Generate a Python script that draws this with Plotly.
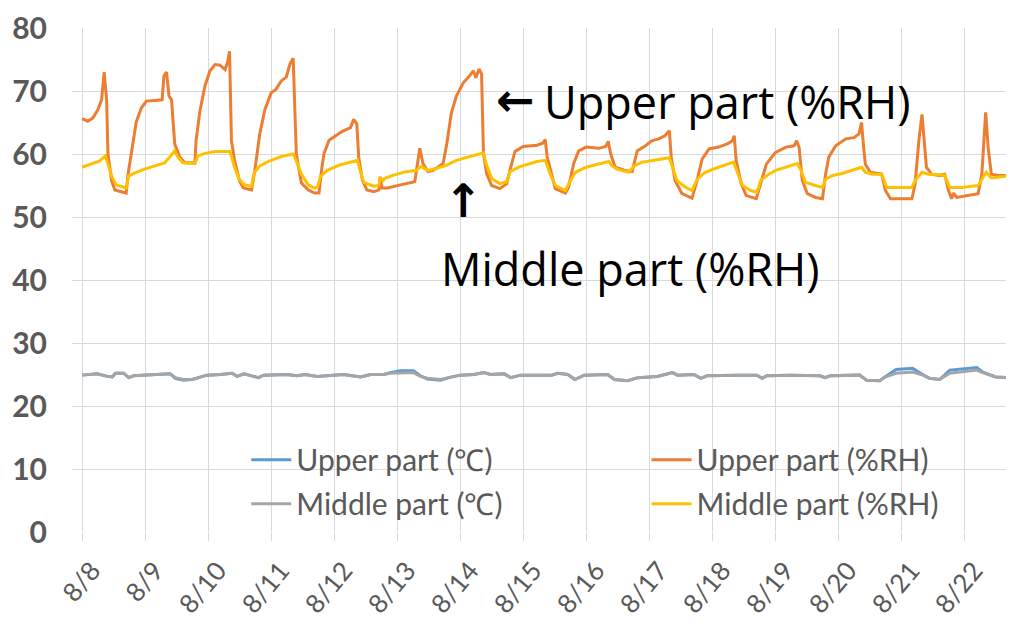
import plotly.graph_objects as go

# ---------------- data (t = days since 8/8 00:00) ----------------
day_labels = ["8/8", "8/9", "8/10", "8/11", "8/12", "8/13", "8/14", "8/15",
              "8/16", "8/17", "8/18", "8/19", "8/20", "8/21", "8/22"]

t_upper_rh = [0.00, 0.09, 0.17, 0.25, 0.31, 0.35, 0.39, 0.41, 0.47, 0.52, 0.62, 0.70, 0.73, 0.81, 0.86, 0.94,
              1.02, 1.15, 1.27, 1.30, 1.34, 1.38, 1.42, 1.47, 1.55, 1.63, 1.79, 1.81, 1.87, 1.95,
              2.03, 2.11, 2.19, 2.27, 2.31, 2.34, 2.37, 2.42, 2.50, 2.56, 2.69, 2.74, 2.82, 2.90,
              3.00, 3.08, 3.16, 3.24, 3.30, 3.35, 3.38, 3.40, 3.48, 3.59, 3.69, 3.76, 3.80, 3.84, 3.92,
              4.03, 4.13, 4.26, 4.31, 4.36, 4.39, 4.45, 4.52, 4.63, 4.71, 4.73, 4.76, 4.85,
              5.00, 5.14, 5.28, 5.33, 5.36, 5.41, 5.49, 5.57, 5.65, 5.73, 5.79, 5.86, 5.94,
              6.05, 6.15, 6.21, 6.25, 6.30, 6.34, 6.37, 6.42, 6.50, 6.63, 6.74, 6.79, 6.87,
              7.00, 7.22, 7.31, 7.35, 7.38, 7.43, 7.51, 7.67, 7.72, 7.80, 7.88,
              8.00, 8.20, 8.31, 8.35, 8.39, 8.46, 8.62, 8.73, 8.81, 8.94,
              9.04, 9.15, 9.25, 9.32, 9.35, 9.41, 9.52, 9.68, 9.76, 9.84, 9.95,
              10.10, 10.24, 10.32, 10.35, 10.38, 10.46, 10.54, 10.70, 10.78, 10.86,
              11.00, 11.17, 11.30, 11.34, 11.38, 11.43, 11.51, 11.64, 11.75, 11.80, 11.85, 11.96,
              12.12, 12.25, 12.33, 12.37, 12.40, 12.43, 12.51, 12.69, 12.75, 12.83,
              13.01, 13.17, 13.22, 13.28, 13.33, 13.37, 13.40, 13.48, 13.59, 13.69, 13.75, 13.80, 13.83, 13.88,
              14.06, 14.22, 14.28, 14.34, 14.38, 14.43, 14.54, 14.69, 14.78]
upper_rh = [65.6, 65.2, 65.7, 67.0, 68.6, 73.0, 68.6, 60.0, 55.7, 54.3, 54.0, 53.8, 56.8, 62.2, 65.1, 67.3,
            68.4, 68.5, 68.6, 72.4, 73.0, 69.2, 68.6, 61.6, 59.5, 58.6, 58.6, 62.2, 66.8, 70.8,
            73.2, 74.2, 74.1, 73.4, 74.6, 76.3, 62.2, 58.9, 55.7, 54.6, 54.3, 57.3, 63.2, 67.0,
            69.7, 70.3, 71.6, 72.2, 74.3, 75.2, 67.6, 60.0, 55.4, 54.3, 53.8, 53.8, 57.4, 60.1, 62.2,
            63.0, 63.6, 64.2, 65.5, 64.8, 59.5, 55.8, 54.3, 54.0, 54.3, 56.4, 54.6, 54.6,
            55.0, 55.3, 55.6, 59.0, 60.9, 58.5, 57.2, 57.4, 58.0, 58.5, 61.7, 66.5, 69.2,
            71.3, 72.4, 73.2, 72.1, 73.5, 72.7, 60.1, 56.9, 55.0, 54.5, 55.3, 57.4, 60.4,
            61.2, 61.4, 61.7, 62.3, 59.6, 57.5, 54.5, 53.8, 54.7, 58.4, 60.5,
            61.1, 60.9, 61.2, 62.0, 60.0, 57.9, 57.4, 57.2, 60.5, 61.3,
            62.1, 62.4, 62.9, 63.7, 59.5, 55.8, 53.7, 53.0, 55.8, 59.2, 60.8,
            61.1, 61.6, 62.1, 62.9, 59.0, 55.3, 53.4, 52.9, 55.8, 58.4,
            60.2, 61.1, 61.3, 62.1, 61.0, 55.8, 53.7, 53.1, 52.9, 56.8, 59.5, 61.3,
            62.4, 62.6, 63.2, 65.0, 61.5, 58.4, 57.1, 56.8, 54.2, 52.9,
            52.9, 52.9, 55.2, 62.1, 66.3, 62.0, 57.9, 56.8, 56.6, 56.8, 54.2, 52.9, 53.8, 53.1,
            53.4, 53.7, 56.8, 66.6, 61.0, 56.8, 56.6, 56.6, 56.8]

t_middle_rh = [0.00, 0.15, 0.28, 0.37, 0.41, 0.47, 0.54, 0.62, 0.70, 0.74, 0.84, 0.99,
               1.15, 1.31, 1.39, 1.47, 1.52, 1.60, 1.79, 1.84, 1.95,
               2.11, 2.34, 2.37, 2.42, 2.50, 2.58, 2.69, 2.73, 2.82, 2.95,
               3.16, 3.35, 3.40, 3.48, 3.59, 3.69, 3.74, 3.78, 3.89,
               4.10, 4.37, 4.41, 4.47, 4.63, 4.71, 4.73, 4.78, 4.80, 4.93,
               5.14, 5.30, 5.38, 5.49, 5.62, 5.78, 5.94,
               6.15, 6.37, 6.42, 6.50, 6.63, 6.74, 6.79, 6.95,
               7.22, 7.35, 7.43, 7.51, 7.67, 7.75, 7.83,
               8.00, 8.20, 8.36, 8.41, 8.49, 8.68, 8.76, 8.89,
               9.10, 9.32, 9.37, 9.44, 9.58, 9.68, 9.76, 9.89,
               10.10, 10.34, 10.40, 10.48, 10.61, 10.71, 10.77, 10.90,
               11.01, 11.17, 11.35, 11.41, 11.48, 11.64, 11.75, 11.80, 11.91,
               12.06, 12.27, 12.37, 12.43, 12.54, 12.69, 12.77,
               13.17, 13.22, 13.33, 13.43, 13.59, 13.69, 13.77, 13.96,
               14.22, 14.30, 14.35, 14.43, 14.59, 14.78]
middle_rh = [57.9, 58.4, 58.9, 59.7, 58.4, 56.5, 55.1, 54.8, 54.6, 56.5, 57.0, 57.6,
             58.1, 58.6, 59.5, 60.5, 59.5, 58.6, 58.5, 59.7, 60.1,
             60.4, 60.4, 59.7, 57.8, 55.9, 55.1, 54.9, 57.0, 58.1, 58.8,
             59.6, 60.0, 58.9, 56.8, 55.1, 54.6, 54.8, 56.4, 57.4,
             58.3, 59.0, 57.5, 55.5, 54.9, 55.0, 56.3, 55.8, 56.1, 56.6,
             57.2, 57.4, 58.0, 57.4, 57.7, 58.2, 59.0,
             59.6, 60.2, 58.2, 56.1, 55.3, 55.6, 57.2, 58.0,
             58.8, 59.0, 56.8, 55.0, 54.2, 55.8, 57.1,
             57.9, 58.4, 58.8, 58.1, 57.6, 57.1, 58.1, 58.7,
             59.0, 59.4, 57.9, 55.8, 54.7, 54.2, 56.0, 57.1,
             57.9, 58.7, 57.1, 55.0, 54.2, 53.9, 55.8, 56.8,
             57.4, 57.9, 58.5, 57.4, 55.5, 55.0, 54.7, 56.0, 56.6,
             56.9, 57.5, 57.9, 57.1, 56.8, 56.8, 54.7,
             54.7, 55.8, 57.1, 56.8, 56.7, 56.6, 54.7, 54.7,
             55.0, 56.2, 57.1, 56.2, 56.4, 56.6]

t_middle_c = [0.00, 0.24, 0.40, 0.48, 0.53, 0.66, 0.74, 0.82, 0.95, 1.40, 1.48, 1.61, 1.75, 1.88, 1.98,
              2.20, 2.38, 2.46, 2.57, 2.72, 2.80, 2.88, 3.25, 3.41, 3.54, 3.73, 3.89,
              4.15, 4.42, 4.58, 4.79, 4.89, 5.26, 5.37, 5.48, 5.69, 5.82,
              6.00, 6.22, 6.38, 6.48, 6.70, 6.80, 6.96, 7.28, 7.45, 7.55, 7.71, 7.82, 7.97,
              8.34, 8.45, 8.66, 8.82, 9.13, 9.37, 9.45, 9.71, 9.82, 9.92,
              10.39, 10.71, 10.79, 10.87, 11.24, 11.71, 11.79, 11.87,
              12.34, 12.45, 12.66, 12.74, 12.92, 13.18, 13.34, 13.45, 13.61, 13.77,
              14.20, 14.29, 14.50, 14.78]
middle_c = [24.9, 25.1, 24.7, 24.6, 25.2, 25.2, 24.5, 24.8, 24.9, 25.1, 24.5, 24.2, 24.2, 24.6, 24.9,
            25.0, 25.2, 24.7, 25.1, 24.7, 24.5, 24.9, 25.0, 24.8, 25.0, 24.7, 24.8,
            25.0, 24.6, 25.0, 25.0, 25.2, 25.3, 24.7, 24.4, 24.2, 24.5,
            24.9, 25.0, 25.3, 25.0, 25.1, 24.5, 24.9, 24.9, 24.9, 25.2, 25.0, 24.2, 24.9,
            25.0, 24.2, 24.0, 24.5, 24.7, 25.3, 24.9, 25.0, 24.4, 24.8,
            24.9, 24.9, 24.4, 24.8, 24.9, 24.8, 24.5, 24.8,
            24.9, 24.1, 24.0, 24.6, 25.2, 25.4, 24.9, 24.4, 24.2, 25.2,
            25.7, 25.3, 24.6, 24.5]

t_upper_c = [0.00, 0.24, 0.40, 0.48, 0.53, 0.66, 0.74, 0.82, 0.95, 1.40, 1.48, 1.61, 1.75, 1.88, 1.98,
             2.20, 2.38, 2.46, 2.57, 2.72, 2.80, 2.88, 3.25, 3.41, 3.54, 3.73, 3.89,
             4.15, 4.42, 4.58, 4.79, 4.89, 5.05, 5.26, 5.37, 5.48, 5.69, 5.82,
             6.00, 6.22, 6.38, 6.48, 6.70, 6.80, 6.96, 7.28, 7.45, 7.55, 7.71, 7.82, 7.97,
             8.34, 8.45, 8.66, 8.82, 9.13, 9.37, 9.45, 9.71, 9.82, 9.92,
             10.39, 10.71, 10.79, 10.87, 11.24, 11.71, 11.79, 11.87,
             12.34, 12.45, 12.66, 12.74, 12.92, 13.18, 13.34, 13.45, 13.61, 13.77,
             14.20, 14.29, 14.50, 14.78]
upper_c = [24.9, 25.1, 24.7, 24.6, 25.2, 25.2, 24.5, 24.8, 24.9, 25.1, 24.4, 24.1, 24.2, 24.6, 24.9,
           25.0, 25.2, 24.7, 25.1, 24.7, 24.5, 24.9, 25.0, 24.8, 25.0, 24.7, 24.8,
           25.0, 24.6, 25.0, 25.0, 25.3, 25.6, 25.6, 24.8, 24.3, 24.1, 24.5,
           24.9, 25.0, 25.3, 25.0, 25.1, 24.5, 24.9, 24.9, 24.9, 25.2, 25.0, 24.2, 24.9,
           25.0, 24.2, 24.0, 24.5, 24.7, 25.3, 24.9, 25.0, 24.4, 24.8,
           24.9, 24.9, 24.4, 24.8, 24.9, 24.8, 24.5, 24.8,
           24.9, 24.1, 24.0, 24.6, 25.8, 26.0, 25.0, 24.4, 24.2, 25.7,
           26.1, 25.4, 24.6, 24.5]

series_names = ["Upper part (℃)", "Upper part (%RH)", "Middle part (℃)", "Middle part (%RH)"]
series_colors = ["#5B9BD5", "#ED7D31", "#A5A5A5", "#FFC000"]
series_legend = ["legend", "legend2", "legend", "legend2"]

# ---------------- figure ----------------
fig = go.Figure()
xs = [t_upper_c, t_upper_rh, t_middle_c, t_middle_rh]
ys = [upper_c, upper_rh, middle_c, middle_rh]
for i, (name, col, x, y, lg) in enumerate(zip(series_names, series_colors, xs, ys, series_legend)):
    fig.add_trace(go.Scatter(x=x, y=y, mode="lines", name=name, legend=lg,
                             legendgroup="g%d" % i,
                             line=dict(color=col, width=3)))

leg_font = dict(family="Lato", size=30, color="#595959")
fig.update_layout(
    width=1006, height=620,
    margin=dict(l=64, r=0, t=20, b=96),
    paper_bgcolor="white", plot_bgcolor="white",
    showlegend=True,
    legend=dict(orientation="v", x=0.185, y=0.195, xanchor="left", yanchor="top",
                bgcolor="rgba(0,0,0,0)", itemwidth=40, tracegroupgap=2, font=leg_font),
    legend2=dict(orientation="v", x=0.61, y=0.195, xanchor="left", yanchor="top",
                 bgcolor="rgba(0,0,0,0)", itemwidth=40, tracegroupgap=2, font=leg_font),
)
fig.update_xaxes(range=[-0.16, 14.79], tickmode="array", automargin=False,
                 tickvals=list(range(len(day_labels))), ticktext=day_labels,
                 tickangle=-50, showgrid=True, gridcolor="#D9D9D9", gridwidth=1,
                 zeroline=False, showline=False,
                 ticks="outside", ticklen=8, tickcolor="#D9D9D9",
                 ticklabelshift=10, ticklabelstandoff=4,
                 tickfont=dict(family="Lato", size=26, color="#595959"))
fig.update_yaxes(range=[0, 80], tickmode="array", tickvals=list(range(0, 81, 10)),
                 automargin=False,
                 showgrid=True, gridcolor="#D9D9D9", gridwidth=1,
                 zeroline=False, showline=False, ticks="", ticklabelstandoff=24,
                 tickfont=dict(family="Lato", size=30, color="#595959", weight="bold"))

ann_font = dict(family="Open Sans", size=45, color="black")
arrow_font = dict(family="DejaVu Sans", size=46, color="black", weight="bold")
fig.add_annotation(x=6.54, y=68.5, xref="x", yref="y", text="←",
                   showarrow=False, xanchor="left", yanchor="middle", font=arrow_font)
fig.add_annotation(x=7.30, y=68.3, xref="x", yref="y", text="Upper part (%RH)",
                   showarrow=False, xanchor="left", yanchor="middle", font=ann_font)
fig.add_annotation(x=6.05, y=52.6, xref="x", yref="y", text="↑",
                   showarrow=False, xanchor="center", yanchor="middle", font=arrow_font)
fig.add_annotation(x=5.67, y=41.9, xref="x", yref="y", text="Middle part (%RH)",
                   showarrow=False, xanchor="left", yanchor="middle", font=ann_font)

fig.write_html("out.html")
